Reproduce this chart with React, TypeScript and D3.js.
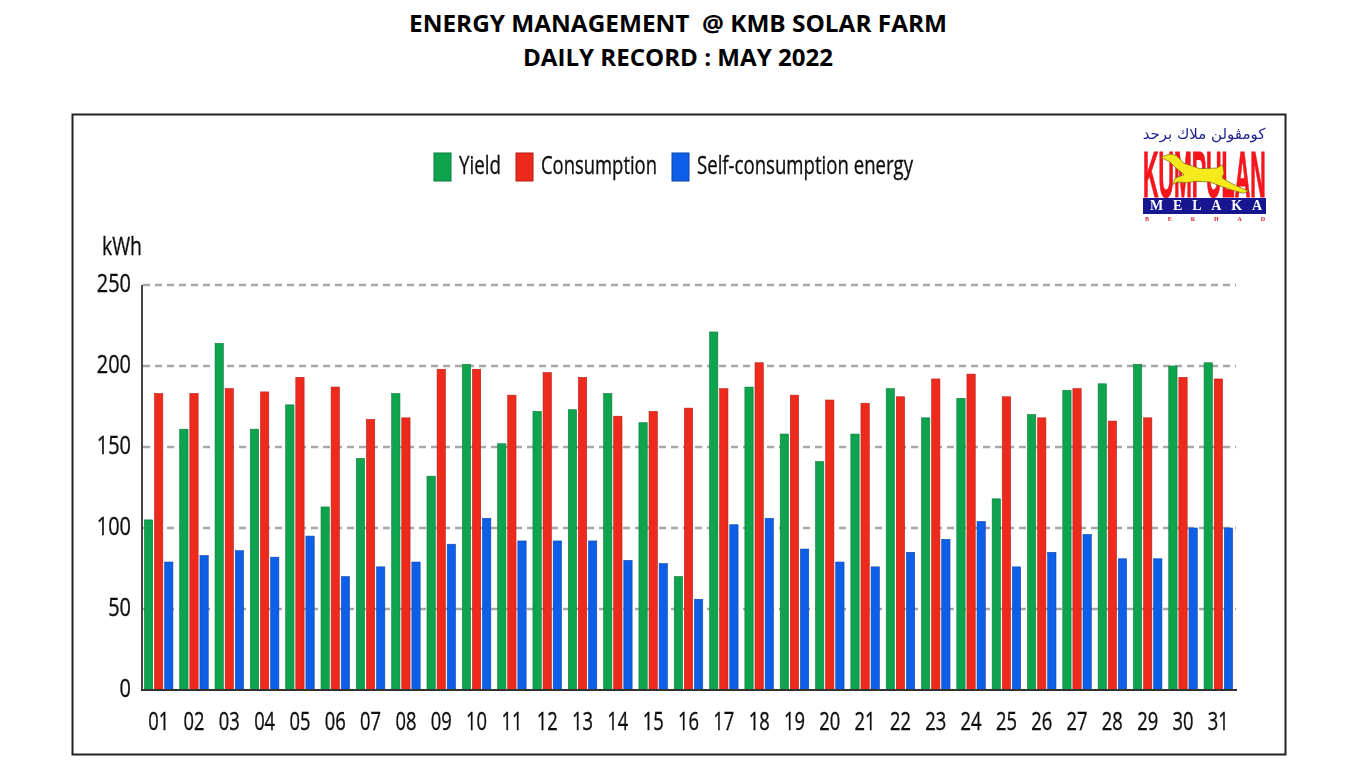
import React from "react";
import * as d3 from "d3";

const titleLines = ["ENERGY MANAGEMENT  @ KMB SOLAR FARM", "DAILY RECORD : MAY 2022"];
const titleWidths = [538, 310];
const days = ["01","02","03","04","05","06","07","08","09","10","11","12","13","14","15","16","17","18","19","20","21","22","23","24","25","26","27","28","29","30","31"];
const yieldValues = [105,161,214,161,176,113,143,183,132,201,152,172,173,183,165,70,221,187,158,141,158,186,168,180,118,170,185,189,201,200,202];
const consumptionValues = [183,183,186,184,193,187,167,168,198,198,182,196,193,169,172,174,186,202,182,179,177,181,192,195,181,168,186,166,168,193,192];
const selfValues = [79,83,86,82,95,70,76,79,90,106,92,92,92,80,78,56,102,106,87,79,76,85,93,104,76,85,96,81,81,100,100];
const seriesNames = ["Yield","Consumption","Self-consumption energy"];
const seriesColors = ["#0fa44e","#ee2b1f","#0b5fe8"];
const seriesEdges = ["#0a7a3a","#b81d14","#0a45ad"];
const yTicks = [0,50,100,150,200,250];

const font = "'Open Sans', sans-serif";

export default function App() {
  const y = d3.scaleLinear().domain([0,250]).range([690,285]);
  const x0 = d3.scaleBand<string>().domain(days).range([141,1236]).paddingInner(0.193).paddingOuter(0.0965);
  const x1 = d3.scaleBand<string>().domain(seriesNames).range([0,x0.bandwidth()]).paddingInner(0.18);
  const table = [yieldValues,consumptionValues,selfValues];
  const legend = [
    {sx:434,tx:459,tw:42},
    {sx:516,tx:541,tw:116},
    {sx:672,tx:697,tw:216},
  ];
  const heavy = {stroke:"#111",strokeWidth:0.35};
  return (
    <svg width={1366} height={768} style={{position:"absolute",left:0,top:0,background:"#fff"}} fontFamily={font}>
      <defs>
        <filter id="soft" x="-2%" y="-2%" width="104%" height="104%"><feGaussianBlur stdDeviation="0.45"/></filter>
      </defs>
      {titleLines.map((t,i)=>(
        <text key={i} x={678} y={32+i*34} textAnchor="middle" fontSize={24} fontWeight={700} fill="#000" textLength={titleWidths[i]} lengthAdjust="spacingAndGlyphs" style={{whiteSpace:"pre"}}>{t}</text>
      ))}
      <rect x={72.5} y={114.5} width={1213} height={640} fill="#fff" stroke="#222" strokeWidth={2}/>
      <g filter="url(#soft)">
        {yTicks.filter(t=>t>0).map(t=>(
          <line key={t} x1={143} x2={1236} y1={y(t)} y2={y(t)} stroke="#a8a8a8" strokeWidth={2.6} strokeDasharray="7 5"/>
        ))}
        {table.map((vals,si)=>vals.map((v,i)=>(
          <rect key={si+"-"+i} x={x0(days[i])!+x1(seriesNames[si])!} y={y(v)} width={x1.bandwidth()} height={y(0)-y(v)} fill={seriesColors[si]} stroke={seriesEdges[si]} strokeWidth={0.6}/>
        )))}
        <line x1={142} x2={142} y1={y(250)} y2={y(0)} stroke="#444" strokeWidth={2}/>
        <line x1={141} x2={1237} y1={y(0)} y2={y(0)} stroke="#333" strokeWidth={2}/>
        {yTicks.map(t=>(
          <text key={t} x={131} y={y(t)+6.5} textAnchor="end" fontSize={25} fill="#111" {...heavy} textLength={String(t).length*11.4} lengthAdjust="spacingAndGlyphs">{t}</text>
        ))}
        {days.map(d=>(
          <text key={d} x={x0(d)!+x0.bandwidth()/2} y={730} textAnchor="middle" fontSize={25} fill="#111" {...heavy} textLength={21} lengthAdjust="spacingAndGlyphs">{d}</text>
        ))}
        <text x={102} y={255} fontSize={25} fill="#111" {...heavy} textLength={40} lengthAdjust="spacingAndGlyphs">kWh</text>
        {seriesNames.map((n,i)=>(
          <g key={n}>
            <rect x={legend[i].sx} y={153} width={17} height={28} fill={seriesColors[i]} stroke={seriesEdges[i]} strokeWidth={1}/>
            <text x={legend[i].tx} y={174} fontSize={26} fill="#111" {...heavy} textLength={legend[i].tw} lengthAdjust="spacingAndGlyphs">{n}</text>
          </g>
        ))}
      </g>
      <g filter="url(#soft)">
        <text x={1204} y={139} textAnchor="middle" direction="rtl" fontFamily="'DejaVu Sans', sans-serif" fontSize={15} fill="#1a1f8c">كومڤولن ملاك برحد</text>
        <text transform="translate(1143,197) scale(0.335,1)" x={0} y={0} fontFamily="'Liberation Sans', sans-serif" fontWeight={700} fontSize={64} fill="#f5141e" stroke="#f5141e" strokeWidth={1.2}>KUMPULAN</text>
        <path transform="translate(1120,110) scale(0.3333)" fill="#f6ea1e" stroke="#6b5a10" strokeWidth={2}
          d="M122,142 L150,132 L168,136 L192,160 L240,176 L290,174 L308,164 L312,190 L306,204 L342,224 L385,243 L370,250 L335,240 L295,226 L270,216 L225,214 L200,218 L172,216 L158,224 L165,205 L192,194 L168,174 L150,156 Z"/>
        <rect x={1143} y={198} width={123} height={16} fill="#12128f"/>
        <text x={1150} y={210} fontFamily="'Liberation Serif', serif" fontWeight={700} fontSize={14} fill="#fff" textLength={112} lengthAdjust="spacing">MELAKA</text>
        <text x={1145} y={221} fontFamily="'Liberation Serif', serif" fontWeight={700} fontSize={6} fill="#d6202a" textLength={120} lengthAdjust="spacing">BERHAD</text>
      </g>
    </svg>
  );
}
